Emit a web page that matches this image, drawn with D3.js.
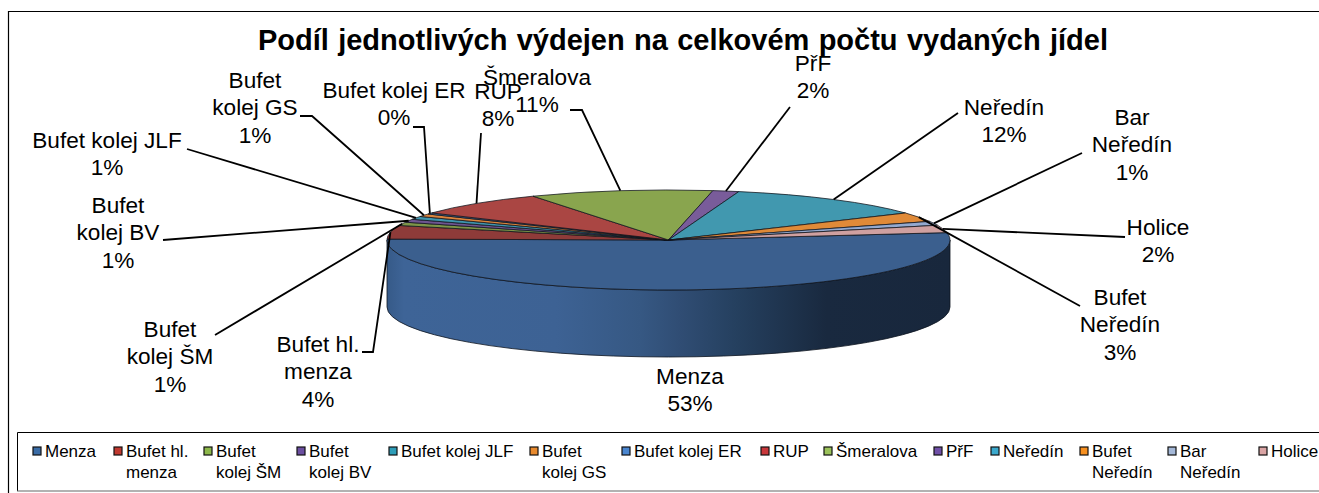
<!DOCTYPE html>
<html><head><meta charset="utf-8">
<script src="https://cdn.jsdelivr.net/npm/d3@7/dist/d3.min.js"></script>
<style>
html,body{margin:0;padding:0;background:#fff;overflow:hidden}
text{font-family:"Liberation Sans",Arial,sans-serif;fill:#000}
</style></head><body>
<svg id="c" width="1319" height="493"></svg>
<script>
const titleText = "Podíl jednotlivých výdejen na celkovém počtu vydaných jídel";
const categories = ["Menza","Bufet hl. menza","Bufet kolej ŠM","Bufet kolej BV","Bufet kolej JLF","Bufet kolej GS","Bufet kolej ER","RUP","Šmeralova","PřF","Neředín","Bufet Neředín","Bar Neředín","Holice"];
const shares = [52.6,4.4,1.1,1.0,1.0,0.9,0.4,7.9,10.5,1.5,11.9,3.0,1.3,2.4];
const sliceColors = ["#3B5F8E","#8E3B39","#7D9548","#6E5590","#3F95AE","#DB843D","#3F6FAA","#AA4643","#89A54E","#795C9A","#4198AF","#E08A38","#93A9CF","#CFA0A0"];
const legendColors = ["#3A6CA6","#C0392F","#8DB84A","#6B4FA0","#2E9DB8","#E88A2E","#4A86D0","#C8373A","#9BC25A","#7050A8","#3AA8CC","#F79020","#A4B8D8","#DBA5A5"];
const legendLines = [["Menza"],["Bufet hl.","menza"],["Bufet","kolej ŠM"],["Bufet","kolej BV"],["Bufet kolej JLF"],["Bufet","kolej GS"],["Bufet kolej ER"],["RUP"],["Šmeralova"],["PřF"],["Neředín"],["Bufet","Neředín"],["Bar","Neředín"],["Holice"]];
const labelLines = [["Menza"],["Bufet hl.","menza"],["Bufet","kolej ŠM"],["Bufet","kolej BV"],["Bufet kolej JLF"],["Bufet","kolej GS"],["Bufet kolej ER"],["RUP"],["Šmeralova"],["PřF"],["Neředín"],["Bufet","Neředín"],["Bar","Neředín"],["Holice"]];

// layout, kept apart from the values
const cx = 668.5, cy = 240, rx = 281.5, ry = 50, depth = 67;
const startDeg = 81.5;
const legendX = [33,114,204,297,389,530,622,761,824,934,991,1080,1168,1259];
// label centre x, first baseline, and leader elbow points (outer end first)
const labelPos = [
 {x:690,y:384,leader:null},
 {x:318,y:352,leader:[[362,352],[373,352]]},
 {x:170,y:337,leader:[[215,335]]},
 {x:118,y:213,leader:[[163,240]]},
 {x:107,y:148,leader:[[187,149]]},
 {x:255,y:88,leader:[[300,116],[312,116]]},
 {x:394,y:98,leader:[[413,127],[424,127]]},
 {x:498,y:99,leader:[[481,133]]},
 {x:537,y:85,leader:[[570,110],[582,110]]},
 {x:813,y:71,leader:[[790,107]]},
 {x:1004,y:115,leader:[[958,113]]},
 {x:1120,y:305,leader:[[1080,306]]},
 {x:1132,y:125,leader:[[1082,153]]},
 {x:1158,y:235,leader:[[1125,237]]}
];

const svg = d3.select("#c");
const defs = svg.append("defs");

// frame
svg.append("path").attr("d","M8.5,493V11.5H1319").attr("fill","none").attr("stroke","#000").attr("stroke-width",1.2);
svg.append("text").attr("x",683).attr("y",50).attr("text-anchor","middle")
  .attr("font-size",29).attr("font-weight","bold").attr("word-spacing",1.25).text(titleText);

// pie
const pie = d3.pie().sort(null).value(d=>d)
  .startAngle(startDeg*Math.PI/180).endAngle((startDeg+360)*Math.PI/180);
const arcs = pie(shares);
const rimPoint = a => [cx + rx*Math.sin(a), cy - ry*Math.cos(a)];

const grad = defs.append("linearGradient").attr("id","side").attr("gradientUnits","userSpaceOnUse")
  .attr("x1",cx-rx).attr("x2",cx+rx).attr("y1",0).attr("y2",0);
[[0,"#365A88"],[0.03,"#3E6497"],[0.3,"#3D6294"],[0.45,"#365883"],[0.52,"#304D74"],[0.62,"#25405F"],[0.78,"#19293F"],[1,"#18273C"]]
  .forEach(s=>grad.append("stop").attr("offset",s[0]).attr("stop-color",s[1]));

// side wall: only the front-facing part of a slice shows
arcs.forEach(d=>{
  const a0 = Math.max(d.startAngle,Math.PI/2), a1 = Math.min(d.endAngle,Math.PI*1.5);
  if(a1<=a0) return;
  const p0 = rimPoint(a0), p1 = rimPoint(a1);
  const seg = (f,t,dy)=>`A${rx},${ry} 0 0 ${f<t?1:0} ${rimPoint(t)[0]},${rimPoint(t)[1]+dy}`;
  svg.append("path")
    .attr("d",`M${p0[0]},${p0[1]}${seg(a0,a1,0)}L${p1[0]},${p1[1]+depth}${seg(a1,a0,depth)}Z`)
    .attr("fill","url(#side)").attr("stroke","#0c1420").attr("stroke-width",0.8);
});

// top surface
const arc = d3.arc().innerRadius(0).outerRadius(rx);
const topFace = svg.append("g").attr("transform",`translate(${cx},${cy}) scale(1,${ry/rx})`);
topFace.selectAll("path").data(arcs).join("path")
  .attr("d",arc).attr("fill",(d,i)=>sliceColors[i])
  .attr("stroke","#10141c").attr("stroke-width",0.9).attr("stroke-opacity",0.85)
  .attr("vector-effect","non-scaling-stroke");

// leader lines
const line = d3.line();
arcs.forEach((d,i)=>{
  const l = labelPos[i].leader;
  if(!l) return;
  svg.append("path").attr("d",line([...l,rimPoint((d.startAngle+d.endAngle)/2)]))
    .attr("fill","none").attr("stroke","#000").attr("stroke-width",1.8);
});

// data labels
const lineH = 27.3;
arcs.forEach((d,i)=>{
  const pos = labelPos[i];
  const rows = [...labelLines[i], Math.round(d.value)+"%"];
  const t = svg.append("text").attr("text-anchor","middle").attr("font-size",22.6);
  rows.forEach((r,k)=>t.append("tspan").attr("x",pos.x).attr("y",pos.y+k*lineH).text(r));
});

// legend
svg.append("path").attr("d","M17.5,491V432.5H1319").attr("fill","none").attr("stroke","#000").attr("stroke-width",1);
svg.append("path").attr("d","M17,491H1319").attr("fill","none").attr("stroke","#666").attr("stroke-width",1.2);
categories.forEach((c,i)=>{
  const x = legendX[i];
  svg.append("rect").attr("x",x).attr("y",447).attr("width",8).attr("height",8)
    .attr("fill",legendColors[i]).attr("stroke","#111").attr("stroke-width",1.2);
  const t = svg.append("text").attr("font-size",17);
  legendLines[i].forEach((r,k)=>t.append("tspan").attr("x",x+12).attr("y",457+k*21).text(r));
});
</script>
</body></html>
